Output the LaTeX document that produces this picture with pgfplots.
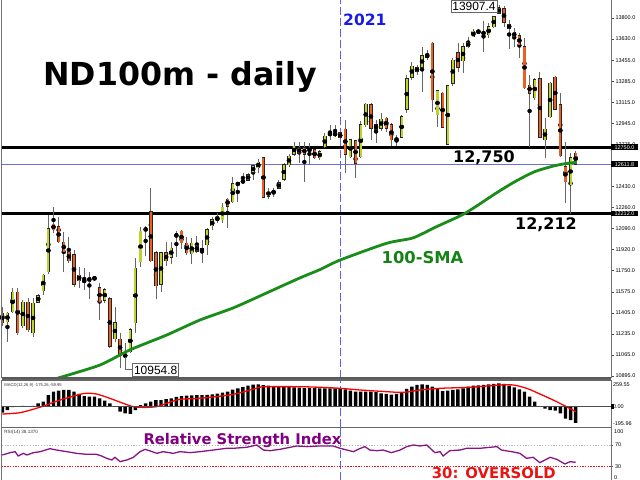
\documentclass[border=0pt]{standalone}
\usepackage{pgfplots}
\pgfplotsset{compat=1.18}
\usepackage{pgfplotstable}
\usepackage{fontspec}
\setmainfont{DejaVu Sans}
\newfontfamily\lib{Liberation Sans}
\definecolor{bull}{RGB}{190,210,45}
\definecolor{bear}{RGB}{235,95,35}
\definecolor{smagreen}{RGB}{25,140,25}
\definecolor{smatext}{RGB}{20,130,20}
\definecolor{sepblue}{RGB}{95,95,255}
\definecolor{yrblue}{RGB}{25,25,235}
\definecolor{pxblue}{RGB}{110,110,215}
\definecolor{rsipurple}{RGB}{135,20,135}
\definecolor{txtpurple}{RGB}{128,0,128}
\definecolor{osred}{RGB}{232,20,20}

\pgfplotstableread{
i o h l c
0 11405 11454 11300 11324
1 11332 11413 11170 11405
2 11413 11608 11405 11575
3 11575 11608 11226 11243
4 11300 11510 11283 11494
5 11494 11527 11251 11267
6 11243 11527 11210 11486
7 11494 11559 11486 11543
8 11584 11722 11551 11713
9 11738 12200 11722 12087
10 12127 12265 12054 12079
11 12103 12184 11973 11981
12 11981 12062 11738 11900
13 11900 12022 11811 11827
14 11876 11916 11616 11640
15 11713 11778 11608 11665
16 11673 11770 11592 11657
17 11697 11738 11519 11657
18 11689 11697 11673 11685
19 11608 11648 11348 11494
20 11510 11608 11486 11592
21 11519 11535 11121 11137
22 11194 11454 11170 11324
23 11194 11243 10959 11056
24 11048 11162 10955 11072
25 11089 11283 11081 11267
26 11324 11851 11243 11770
27 11819 12103 11778 12070
28 12087 12111 11868 12079
29 12225 12419 11819 11827
30 11892 11908 11519 11624
31 11640 11900 11575 11892
32 11892 11981 11786 11827
33 11859 11981 11803 11932
34 12046 12070 11859 12022
35 12070 12079 11924 11973
36 11973 12022 11876 11892
37 11884 12014 11803 11973
38 11949 12030 11892 11908
39 11932 11997 11811 11900
40 11957 12095 11876 12079
41 12111 12184 12079 12160
42 12184 12217 12135 12152
43 12160 12298 12135 12265
44 12330 12338 12095 12273
45 12306 12509 12298 12452
46 12444 12468 12306 12460
47 12468 12541 12460 12476
48 12484 12541 12476 12525
49 12549 12606 12484 12598
50 12582 12655 12541 12630
51 12663 12671 12338 12346
52 12354 12419 12330 12395
53 12403 12419 12346 12371
54 12419 12484 12419 12460
55 12492 12622 12476 12606
56 12606 12695 12590 12679
57 12695 12793 12679 12760
58 12744 12793 12622 12703
59 12744 12793 12468 12695
60 12724 12785 12606 12732
61 12728 12736 12655 12663
62 12663 12728 12647 12712
63 12752 12866 12744 12841
64 12856 12931 12809 12858
65 12858 12931 12833 12855
66 12866 12874 12817 12825
67 12898 12971 12541 12695
68 12671 12817 12663 12809
69 12801 12809 12501 12622
70 12671 12963 12663 12931
71 12931 13109 12914 13101
72 13093 13109 12809 12906
73 12931 12971 12785 12898
74 12906 13028 12882 12979
75 12987 12996 12874 12906
76 12931 12947 12760 12809
77 12801 12849 12760 12825
78 12833 13012 12825 12996
79 13060 13336 13028 13304
80 13320 13442 13296 13409
81 13401 13417 13336 13361
82 13401 13564 13199 13491
83 13482 13539 13458 13499
84 13596 13604 13036 13134
85 13012 13215 12914 13207
86 13190 13199 12906 12914
87 12776 13255 12768 13247
88 13271 13474 13247 13458
89 13515 13596 13361 13401
90 13450 13596 13353 13564
91 13564 13645 13555 13604
92 13645 13710 13645 13693
93 13689 13702 13677 13685
94 13693 13775 13523 13661
95 13661 13758 13637 13726
96 13726 13815 13718 13807
97 13839 13907.4 13831 13880
98 13872 13896 13726 13766
99 13750 13783 13547 13710
100 13685 13718 13564 13645
101 13653 13677 13474 13580
102 13564 13637 13223 13231
103 13255 13336 12752 13190
104 13150 13312 13134 13296
105 13304 13361 12825 12833
106 12809 12987 12663 12898
107 12996 13280 12987 13271
108 13320 13328 13052 13060
109 13093 13190 12671 12679
110 12590 12793 12298 12468
111 12444 12703 12212 12663
112 12703 12720 12606 12612
}\candles

\pgfplotstableread{
i v
0 -70
1 -40
2 -5
3 5
4 10
5 8
6 10
7 40
8 60
9 138
10 177
11 189
12 197
13 197
14 177
15 150
16 126
17 118
18 118
19 99
20 71
21 40
22 5
23 -59
24 -79
25 -86
26 -39
27 20
28 40
29 59
30 79
31 79
32 90
33 99
34 115
35 126
36 130
37 134
38 138
39 138
40 140
41 145
42 155
43 165
44 177
45 200
46 215
47 230
48 248
49 260
50 264
51 255
52 248
53 240
54 236
55 233
56 230
57 228
58 225
59 220
60 220
61 218
62 217
63 217
64 217
65 217
66 217
67 205
68 189
69 177
70 177
71 177
72 177
73 172
74 158
75 150
76 142
77 150
78 169
79 209
80 236
81 256
82 264
83 256
84 236
85 209
86 185
87 189
88 197
89 205
90 217
91 236
92 248
93 252
94 256
95 264
96 268
97 275
98 268
99 248
100 229
101 205
102 177
103 118
104 59
105 -3
106 -22
107 -39
108 -47
109 -79
110 -140
111 -158
112 -190
}\macd

\pgfplotsset{
  panel/.style={
    scale only axis, anchor=south west, width=609.3bp,
    xmin=-0.12, xmax=118.9, xtick=\empty,
    axis line style={draw=none}, clip mode=individual,
    ytick pos=right, yticklabel pos=right, tick align=outside,
    major tick length=2.5bp, tick style={black!70, line width=0.5bp},
    scaled y ticks=false,
    yticklabel style={font=\lib\fontsize{5.5}{6}\selectfont, anchor=west, xshift=-1.5bp,
      /pgf/number format/assume math mode=true},
  },
  candlebody/.style={only marks, mark=none, forget plot,
    error bars/.cd, y dir=both, y explicit, error mark=none},
}

\begin{document}
\begin{tikzpicture}[x=1bp,y=1bp]

% ---------- main price panel ----------
\begin{axis}[panel, at={(1.7bp,102bp)}, height=378bp,
  ymin=10877.5, ymax=13945,
  ytick={10895,11065,11235,11405,11575,11750,11920,12090,12260,12430,12775,12945,13115,13285,13455,13630,13800},
  yticklabel style={/pgf/number format/fixed, /pgf/number format/fixed zerofill,
    /pgf/number format/precision=1, /pgf/number format/1000 sep={}},
]
\draw[sepblue, line width=0.9bp, dash pattern=on 8bp off 3bp] (axis cs:66,10877.5) -- (axis cs:66,13945);
\draw[pxblue, line width=0.8bp] (axis cs:-0.12,12611.8) -- (axis cs:118.9,12611.8);
\draw[black, line width=2.7bp] (axis cs:-0.12,12750) -- (axis cs:118.9,12750);
\draw[black, line width=2.7bp] (axis cs:-0.12,12212) -- (axis cs:118.9,12212);

% wicks
\addplot[candlebody, error bar style={draw=black!60, line width=0.75bp}]
  table[x=i, y expr={(\thisrow{h}+\thisrow{l})/2}, y error expr={(\thisrow{h}-\thisrow{l})/2}] {\candles};
% body outlines
\addplot[candlebody, error bar style={draw=black!85, line width=3.5bp}]
  table[x=i, y expr={(\thisrow{o}+\thisrow{c})/2}, y error expr={abs(\thisrow{o}-\thisrow{c})/2+4}] {\candles};
% bull bodies
\addplot[candlebody, error bar style={draw=bull, line width=2.1bp}]
  table[x=i, y expr={\thisrow{c}>=\thisrow{o} ? (\thisrow{o}+\thisrow{c})/2 : 5000},
        y error expr={\thisrow{c}>=\thisrow{o} ? max(abs(\thisrow{c}-\thisrow{o})/2-2,0) : 0}] {\candles};
% bear bodies
\addplot[candlebody, error bar style={draw=bear, line width=2.1bp}]
  table[x=i, y expr={\thisrow{c}<\thisrow{o} ? (\thisrow{o}+\thisrow{c})/2 : 5000},
        y error expr={\thisrow{c}<\thisrow{o} ? max(abs(\thisrow{c}-\thisrow{o})/2-2,0) : 0}] {\candles};

% 100-SMA
\addplot[smagreen, line width=2.8bp, smooth, tension=0.4, mark=none] coordinates {
(10,10868) (10.9,10877) (19.1,10983) (24.9,11105) (32.1,11226) (38.6,11348) (45.1,11446)
(51.6,11567) (58.1,11689) (62.1,11758) (66,11835) (75.1,11971) (80.2,12014) (84.8,12105)
(90.4,12214) (96.2,12371) (100.1,12470) (104,12552) (107.9,12600) (110.5,12620) (112.2,12628)};

% borders
\draw[black!55, line width=0.9bp] (rel axis cs:0,0) -- (rel axis cs:0,1);
\draw[black!55, line width=0.9bp] (rel axis cs:1,0) -- (rel axis cs:1,1);
\draw[black!65, line width=1.2bp] (rel axis cs:0,0) -- (rel axis cs:1,0);

% price boxes on the scale
\node[fill=black, text=white, font=\lib\fontsize{5.5}{6}\selectfont, anchor=west, inner xsep=1bp, inner ysep=0.9bp, minimum width=26.5bp] at (axis cs:118.9,12750) {12750.0};
\node[fill=black, text=white, font=\lib\fontsize{5.5}{6}\selectfont, anchor=west, inner xsep=1bp, inner ysep=0.9bp, minimum width=26.5bp] at (axis cs:118.9,12212) {12212.0};
\node[fill=black, text=white, font=\lib\fontsize{5.5}{6}\selectfont, anchor=west, inner xsep=1bp, inner ysep=0.9bp, minimum width=26.5bp] at (axis cs:118.9,12611.8) {12611.8};
\end{axis}

% ---------- MACD panel ----------
\begin{axis}[panel, at={(1.7bp,52.7bp)}, height=47.3bp,
  ymin=-243, ymax=315,
  ytick={-195.96,0,259.55}, major tick length=0bp,
  yticklabel style={/pgf/number format/fixed, /pgf/number format/fixed zerofill,
    /pgf/number format/precision=2, /pgf/number format/1000 sep={}},
]
\draw[sepblue, line width=0.9bp, dash pattern=on 8bp off 3bp] (axis cs:66,-243) -- (axis cs:66,315);
\addplot[ybar, bar width=3.4bp, fill=black, draw=none] table[x=i, y=v] {\macd};
\addplot[red, line width=1.3bp, smooth, tension=0.5, mark=none] coordinates {
(0,-86) (3.5,-70) (7.4,-5) (11.3,79) (15.2,146) (16.5,158) (18.4,150) (21,99) (23.6,40)
(25.6,0) (27.5,-8) (30.1,0) (32.1,40) (34.7,87) (38.6,99) (45.1,146) (50.3,229) (51.6,236)
(58.1,236) (62,229) (66,217) (69.9,197) (75.1,177) (77.7,169) (79.6,177) (81.6,197)
(85.5,217) (91.3,229) (97.2,256) (99.8,256) (102.4,217) (105,150) (107.6,79) (110.2,0) (112,-60)};
\draw[black!70, line width=1bp] (axis cs:-0.12,0) -- (axis cs:118.9,0);
\draw[black!60, line width=1.4bp] (rel axis cs:0,1) -- (rel axis cs:1,1);
\draw[black!60, line width=1.4bp] (rel axis cs:0,0) -- (rel axis cs:1,0);
\draw[black!55, line width=0.9bp] (rel axis cs:0,0) -- (rel axis cs:0,1);
\draw[black!55, line width=0.9bp] (rel axis cs:1,0) -- (rel axis cs:1,1);
\node[fill=black, minimum width=3bp, minimum height=5.5bp, inner sep=0, anchor=west] at (axis cs:118.9,0) {};
\node[anchor=west, font=\lib\fontsize{4.2}{5}\selectfont, text=black!80, inner sep=0] at (rel axis cs:0.004,0.88) {MACD(12,26,9) -175.26,-59.95};
\end{axis}

% ---------- RSI panel ----------
\begin{axis}[panel, at={(1.7bp,0bp)}, height=52.7bp,
  ymin=5.5, ymax=102.6,
  ytick={30,70}, major tick length=2bp,
]
\draw[sepblue, line width=0.9bp, dash pattern=on 8bp off 3bp] (axis cs:66,5.5) -- (axis cs:66,102.6);
\draw[black!30, line width=0.7bp, dash pattern=on 1.2bp off 1.6bp] (axis cs:-0.12,70) -- (axis cs:118.9,70);
\draw[osred, line width=1.3bp, dash pattern=on 1.5bp off 1.2bp] (axis cs:-0.12,30) -- (axis cs:118.9,30);
\addplot[rsipurple, line width=1.3bp, mark=none] coordinates {
(0,51.6) (1.5,55.8) (2.5,57.7) (3.1,49.7) (4.1,54.6) (4.8,51.6) (6.1,55.9) (7.4,57.7) (9.3,63.2)
(10.6,60.7) (12.6,57.7) (14.5,54.6) (16.5,52.8) (18.4,52.8) (19.4,49.7) (20.4,45.4) (21.4,42.4)
(22,47.3) (23,39.3) (24.3,42.4) (25.6,47.3) (26.9,57.7) (27.9,62.0) (28.9,58.9) (30.2,54.6)
(31.4,57.7) (33.4,54.6) (34.7,57.7) (36.7,55.9) (38.6,57.7) (41.2,60.7) (43.8,63.9) (45.1,63.9)
(47.7,65.7) (49.7,70) (51,60.7) (52.3,59.5) (54.2,62.0) (56.2,65.7) (57.5,68.2) (59.5,67.0)
(62,68.2) (64.6,68.2) (66,63.9) (67.3,60.7) (68.6,57.7) (69.5,62.0) (70.8,67.0) (71.8,60.7)
(73.1,59.5) (74.4,60.7) (76,55.9) (77.7,60.7) (79,67.0) (80.3,70) (81.6,68.2) (82.9,70)
(84.5,55.9) (85.5,57.7) (86.1,49.7) (87.4,59.5) (89.4,60.7) (90.7,63.9) (93.3,63.9) (96.6,67.0)
(97.5,60.7) (99.5,57.7) (101.1,54.6) (102.4,45.4) (103.7,47.3) (105,37.4) (107,47.3) (108.3,43.6)
(109.9,35.0) (110.9,39.3) (112,38.1)};
\draw[black!55, line width=0.9bp] (rel axis cs:0,0) -- (rel axis cs:0,1);
\draw[black!55, line width=0.9bp] (rel axis cs:1,0) -- (rel axis cs:1,1);
\node[anchor=west, font=\lib\fontsize{4.6}{5}\selectfont, text=black!80, inner sep=0] at (rel axis cs:0.004,0.9) {RSI(14) 38.1370};
\end{axis}

% scale labels for RSI 100 / 0
\node[anchor=west, font=\lib\fontsize{5.5}{6}\selectfont, inner sep=0] at (614,48.3) {100};
\node[anchor=west, font=\lib\fontsize{5.5}{6}\selectfont, inner sep=0] at (614,2.5) {0};

% annotations
\node[anchor=base west, inner sep=0, font=\bfseries\fontsize{31.8}{36}\selectfont] at (43,394) {ND100m - daily};
\node[anchor=base west, inner sep=0, text=yrblue, font=\bfseries\fontsize{15.6}{18}\selectfont] at (343,454) {2021};
\node[anchor=base west, inner sep=0, font=\bfseries\fontsize{16}{18}\selectfont] at (453,317.5) {12,750};
\node[anchor=base west, inner sep=0, font=\bfseries\fontsize{16}{18}\selectfont] at (515,250.5) {12,212};
\node[anchor=base west, inner sep=0, text=smatext, font=\bfseries\fontsize{16.4}{18}\selectfont] at (381.5,216.5) {100-SMA};
\node[anchor=base west, inner sep=0, text=txtpurple, font=\bfseries\fontsize{14.8}{17}\selectfont] at (143.3,35) {Relative Strength Index};
\node[anchor=base west, inner sep=0, text=osred, font=\bfseries\fontsize{14.9}{17}\selectfont] at (431.7,1.4) {30: OVERSOLD};

\node[draw=black!60, fill=white, line width=0.6bp, inner xsep=1.3bp, inner ysep=2bp, font=\lib\fontsize{12}{13}\selectfont] at (474,473.7) {13907.4};
\draw[black!60, line width=0.6bp] (125,123) -- (125,110.5) -- (132.3,110.5);
\node[draw=black!60, fill=white, line width=0.6bp, inner xsep=1.3bp, inner ysep=2bp, font=\lib\fontsize{12}{13}\selectfont] at (155.7,110) {10954.8};

\pgfresetboundingbox
\path[use as bounding box] (0,0) rectangle (640,480);
\end{tikzpicture}
\end{document}
